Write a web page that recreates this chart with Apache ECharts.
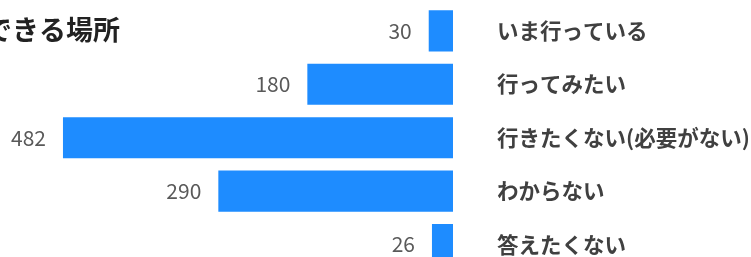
<!DOCTYPE html>
<html>
<head>
<meta charset="utf-8">
<script src="https://cdn.jsdelivr.net/npm/echarts@6/dist/echarts.min.js"></script>
<style>
html,body{margin:0;padding:0;background:#fff;}
#c{width:751px;height:257px;}
</style>
</head>
<body>
<div id="c"></div>
<script>
const titleText = 'できる場所';
const categories = ['いま行っている', '行ってみたい', '行きたくない(必要がない)', 'わからない', '答えたくない'];
const values = [30, 180, 482, 290, 26];

const chart = echarts.init(document.getElementById('c'), null, {renderer: 'canvas'});
chart.setOption({
  animation: false,
  backgroundColor: '#ffffff',
  graphic: [{
    type: 'text',
    left: -15,
    top: 16,
    style: {
      text: titleText,
      fontFamily: 'Noto Sans CJK JP',
      fontSize: 27,
      fontWeight: 'bold',
      fill: '#222222'
    }
  }],
  grid: {left: 48.4, right: 298, top: 4.2, height: 267, containLabel: false, outerBoundsMode: 'none'},
  xAxis: {
    type: 'value',
    inverse: true,
    min: 0,
    max: 500,
    show: false
  },
  yAxis: {
    type: 'category',
    data: categories,
    inverse: true,
    position: 'right',
    axisLine: {show: false},
    axisTick: {show: false},
    axisLabel: {
      margin: 44,
      align: 'left',
      fontFamily: 'Noto Sans CJK JP',
      fontSize: 21.5,
      fontWeight: 'bold',
      color: '#404040'
    }
  },
  series: [{
    type: 'bar',
    data: values,
    barCategoryGap: '23%',
    itemStyle: {color: '#1E8CFF'},
    label: {
      show: true,
      position: 'left',
      distance: 17,
      fontFamily: 'Noto Sans CJK JP',
      fontSize: 21,
      color: '#595959'
    }
  }]
});
</script>
</body>
</html>
